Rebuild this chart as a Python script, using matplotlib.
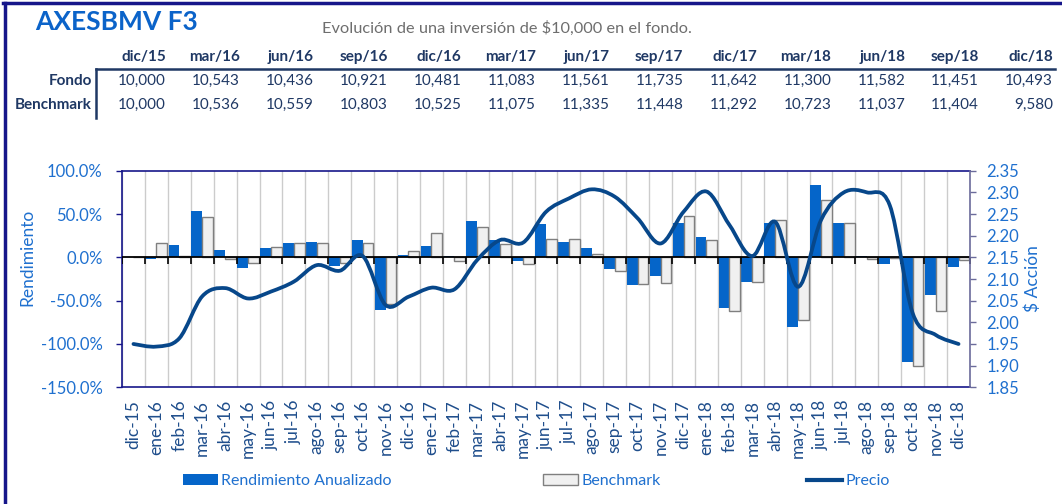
import matplotlib.pyplot as plt
import numpy as np
from matplotlib.path import Path
from matplotlib.patches import PathPatch, Patch
from matplotlib.lines import Line2D
from matplotlib.ticker import MultipleLocator, FuncFormatter

plt.rcParams['font.family'] = ['Lato', 'DejaVu Sans']

# datos mensuales
meses = ['dic-15', 'ene-16', 'feb-16', 'mar-16', 'abr-16', 'may-16', 'jun-16', 'jul-16', 'ago-16',
         'sep-16', 'oct-16', 'nov-16', 'dic-16', 'ene-17', 'feb-17', 'mar-17', 'abr-17', 'may-17',
         'jun-17', 'jul-17', 'ago-17', 'sep-17', 'oct-17', 'nov-17', 'dic-17', 'ene-18', 'feb-18',
         'mar-18', 'abr-18', 'may-18', 'jun-18', 'jul-18', 'ago-18', 'sep-18', 'oct-18', 'nov-18',
         'dic-18']
rendimiento = [0, -1.5, 14.5, 54, 8, -12, 10.5, 16, 18, -9.5, 19.5, -61, 3, 13.5, 2, 42.5, 19.5, -4,
               38, 17.5, 10.5, -14, -31.5, -21, 40, 23.5, -58, -28, 40, -80, 83, 40, 1.5, -8, -121,
               -43, -11]
benchmark = [0, 16, 1.5, 46.5, -1.5, -6.5, 12, 16, 16, -6, 16, -54, 7.5, 28, -4, 35, 15.5, -8,
             21.5, 21.5, 4, -16, -31, -30, 47.5, 20, -62, -28, 43.5, -72, 66.5, 39.5, -2, -1, -125,
             -62, -3]
precio = [1.950, 1.944, 1.963, 2.060, 2.079, 2.055, 2.071, 2.094, 2.132, 2.119, 2.153, 2.040, 2.059,
          2.080, 2.076, 2.144, 2.190, 2.184, 2.255, 2.286, 2.307, 2.290, 2.240, 2.182, 2.255, 2.302,
          2.225, 2.153, 2.232, 2.082, 2.236, 2.300, 2.300, 2.270, 2.021, 1.971, 1.950]

# tabla trimestral
trimestres = ['dic/15', 'mar/16', 'jun/16', 'sep/16', 'dic/16', 'mar/17', 'jun/17', 'sep/17',
              'dic/17', 'mar/18', 'jun/18', 'sep/18', 'dic/18']
fondo = [10000, 10543, 10436, 10921, 10481, 11083, 11561, 11735, 11642, 11300, 11582, 11451, 10493]
bench_tabla = [10000, 10536, 10559, 10803, 10525, 11075, 11335, 11448, 11292, 10723, 11037, 11404, 9580]

azul = '#0565C9'
azul_txt = '#1F70CF'
navy = '#1F3864'
marco = '#16168A'
linea = '#07478A'

W, H = 1062, 504
fx = lambda px: px / W
fy = lambda py: 1 - py / H

fig = plt.figure(figsize=(W / 100, H / 100), dpi=100)
ax = fig.add_axes([fx(122), fy(387.3), fx(970) - fx(122), fy(170.7) - fy(387.3)])

x = np.arange(len(meses))
ax.bar(x - 0.235, rendimiento, 0.47, color=azul, zorder=2)
ax.bar(x + 0.235, benchmark, 0.47, color='#F0F0F0', edgecolor='#7F7F7F', linewidth=1, zorder=2)
ax.axhline(0, color='black', lw=1.3, zorder=3)
bordes = np.arange(len(meses) + 1) - 0.5
ax.plot(bordes, np.zeros(len(bordes)), ls='none', marker=3, ms=5, mew=1.2, color='black', zorder=3)

ax.set_xlim(-0.5, len(meses) - 0.5)
ax.set_ylim(-150, 100)
ax.yaxis.set_major_locator(MultipleLocator(50))
ax.yaxis.set_major_formatter(FuncFormatter(lambda v, p: f'{v:.1f}%'))
ax.set_xticks(x)
ax.set_xticklabels(meses, rotation=90)
ax.set_xticks(bordes, minor=True)
ax.set_axisbelow(True)
ax.grid(which='minor', axis='x', color='#CCCCCC', lw=1)
ax.tick_params(axis='x', which='both', length=0, pad=9, labelsize=12.5, labelcolor='#1F4E8C')
ax.tick_params(axis='y', length=4, width=1, color=marco, pad=10, labelsize=12, labelcolor=azul_txt)
for s in ['left', 'top', 'bottom']:
    ax.spines[s].set_color(marco)
    ax.spines[s].set_linewidth(1.2)
ax.spines['right'].set_visible(False)
ax.set_ylabel('Rendimiento', fontsize=12.5, color=azul_txt)
ax.yaxis.set_label_coords(-0.102, 0.6)

# linea suavizada del precio (curvas bezier por los puntos)
ax2 = ax.twinx()
ax2.set_ylim(1.85, 2.35)
ax2.yaxis.set_major_locator(MultipleLocator(0.05))
ax2.yaxis.set_major_formatter(FuncFormatter(lambda v, p: f'{v:.2f}'))
ax2.tick_params(axis='y', length=4, width=1, color='#6B6B9B', pad=8, labelsize=12, labelcolor=azul_txt)
for s in ['left', 'top', 'bottom']:
    ax2.spines[s].set_visible(False)
ax2.spines['right'].set_color('#6B6B9B')
ax2.spines['right'].set_linewidth(1.2)
ax2.set_ylabel('$ Acción', fontsize=12.5, color=azul_txt)
ax2.yaxis.set_label_coords(1.064, 0.5)

p = np.column_stack([x, precio])
verts = [p[0]]
codes = [Path.MOVETO]
for i in range(len(p) - 1):
    p0 = p[i - 1] if i > 0 else p[i]
    p3 = p[i + 2] if i + 2 < len(p) else p[i + 1]
    verts += [p[i] + (p[i + 1] - p0) / 6, p[i + 1] - (p3 - p[i]) / 6, p[i + 1]]
    codes += [Path.CURVE4] * 3
ax2.add_patch(PathPatch(Path(verts, codes), fill=False, edgecolor=linea, lw=2.7,
                        capstyle='round', zorder=4))

# encabezado
fig.text(fx(35), fy(22), 'AXESBMV F3', fontsize=19, fontweight='bold', color='#0B63C9', va='center')
fig.text(fx(322), fy(28), 'Evolución de una inversión de $10,000 en el fondo.', fontsize=11.8,
         color='#6E6E6E', va='center')

col_x = np.linspace(166, 1053, len(trimestres))
for cx, t, f, b in zip(col_x, trimestres, fondo, bench_tabla):
    fig.text(fx(cx), fy(56.5), t, fontsize=11, fontweight='bold', color=navy, ha='right', va='center')
    fig.text(fx(cx), fy(81), f'{f:,}', fontsize=11, color=navy, ha='right', va='center')
    fig.text(fx(cx), fy(105), f'{b:,}', fontsize=11, color=navy, ha='right', va='center')
fig.text(fx(92), fy(81), 'Fondo', fontsize=11, fontweight='bold', color=navy, ha='right', va='center')
fig.text(fx(92), fy(105), 'Benchmark', fontsize=11, fontweight='bold', color=navy, ha='right', va='center')

fig.add_artist(Line2D([fx(96), fx(1055)], [fy(68.5), fy(68.5)], color=navy, lw=1.8))
fig.add_artist(Line2D([fx(96), fx(96)], [fy(68.5), fy(118)], color=navy, lw=1.8))
# marco
fig.add_artist(Line2D([fx(3), 1], [fy(3), fy(3)], color=marco, lw=2.5))
fig.add_artist(Line2D([fx(4.5), fx(4.5)], [fy(3), 0], color=marco, lw=2.5))

# leyenda
ley = dict(loc='center left', frameon=False, fontsize=11.5, handlelength=2.2, handletextpad=0.2,
           borderpad=0, borderaxespad=0, labelcolor=azul_txt)
fig.legend(handles=[Patch(facecolor=azul)], labels=['Rendimiento Anualizado'],
           bbox_to_anchor=(fx(183), fy(481)), **ley)
fig.legend(handles=[Patch(facecolor='#F0F0F0', edgecolor='#7F7F7F')], labels=['Benchmark'],
           bbox_to_anchor=(fx(543), fy(481)), **ley)
fig.legend(handles=[Line2D([], [], color=linea, lw=3)], labels=['Precio'],
           bbox_to_anchor=(fx(807), fy(481)), **ley)

fig.savefig('out.png', dpi=100)
